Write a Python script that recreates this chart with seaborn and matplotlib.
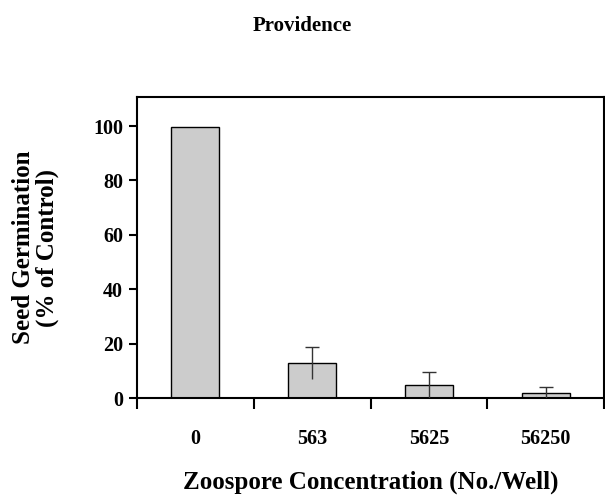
import numpy as np
import pandas as pd
import matplotlib
matplotlib.use("Agg")
import matplotlib.pyplot as plt
import seaborn as sns

# ── Data ──────────────────────────────────────────────────────────────────────
concentrations = ["0", "563", "5625", "56250"]
germination    = [99.7, 12.8, 4.7, 1.7]
std_err        = [0.0, 5.8, 5.0, 2.2]

sns.set_theme(style="white")
plt.rcParams["font.family"] = ["Liberation Serif", "DejaVu Serif"]
plt.rcParams["font.weight"] = "bold"
for key in ["text.color", "axes.labelcolor", "xtick.color", "ytick.color"]:
    plt.rcParams[key] = "black"

df = pd.DataFrame({"conc": concentrations, "germ": germination})

fig = plt.figure(figsize=(6.05, 4.99), dpi=100)
ax = fig.add_axes([0.2264, 0.2024, 0.772, 0.6032])

sns.barplot(data=df, x="conc", y="germ", color="#cccccc", edgecolor="black",
            linewidth=1.0, width=0.41, saturation=1, errorbar=None, ax=ax)

# error bars: full line, cap only on top
x = np.arange(len(concentrations))
means = np.array(germination)
err = np.array(std_err)
has = err > 0
ax.vlines(x[has], means[has] - err[has], means[has] + err[has], color="#333333", lw=1.0, zorder=3)
ax.hlines(means[has] + err[has], x[has] - 0.06, x[has] + 0.06, color="#333333", lw=1.0, zorder=3)

ax.set_xlim(-0.5, 3.5)
ax.set_ylim(0, 110.7)
ax.set_yticks([0, 20, 40, 60, 80, 100])

for s in ax.spines.values():
    s.set_visible(True)
    s.set_color("black")
    s.set_linewidth(1.5)

ax.tick_params(axis="y", which="major", direction="out", length=6, width=1.5,
               left=True, labelsize=14.5, pad=4)
ax.set_xticks(x)
ax.set_xticks(np.arange(-0.5, 4.0, 1.0), minor=True)
ax.tick_params(axis="x", which="major", length=0, labelsize=14.5, pad=22)
ax.tick_params(axis="x", which="minor", direction="out", length=8, width=1.5, bottom=True)
for lab in ax.get_xticklabels() + ax.get_yticklabels():
    lab.set_fontweight("bold")

ax.set_xlabel("Zoospore Concentration (No./Well)", fontsize=18, fontweight="bold")
ax.set_ylabel("Seed Germination\n(% of Control)", fontsize=18, fontweight="bold",
              linespacing=1.0)
ax.xaxis.set_label_coords(0.5, -0.24)
ax.yaxis.set_label_coords(-0.168, 0.5)
fig.suptitle("Providence", x=0.5, y=0.968, fontsize=15, fontweight="bold")

fig.savefig("out.png", dpi=100)
